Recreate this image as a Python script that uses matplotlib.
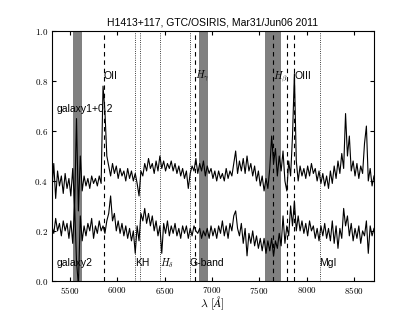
import matplotlib as mpl
mpl.use('Agg')
import matplotlib.pyplot as plt
import matplotlib.ticker as ticker
import numpy as np

# =========================================================
#   Spectra (20 A sampling)
# =========================================================

wavelength = [
    5310, 5330, 5350, 5370, 5390, 5410, 5430, 5450, 5470, 5490,
    5510, 5530, 5550, 5570, 5590, 5610, 5630, 5650, 5670, 5690,
    5710, 5730, 5750, 5770, 5790, 5810, 5830, 5850, 5870, 5890,
    5910, 5930, 5950, 5970, 5990, 6010, 6030, 6050, 6070, 6090,
    6110, 6130, 6150, 6170, 6190, 6210, 6230, 6250, 6270, 6290,
    6310, 6330, 6350, 6370, 6390, 6410, 6430, 6450, 6470, 6490,
    6510, 6530, 6550, 6570, 6590, 6610, 6630, 6650, 6670, 6690,
    6710, 6730, 6750, 6770, 6790, 6810, 6830, 6850, 6870, 6890,
    6910, 6930, 6950, 6970, 6990, 7010, 7030, 7050, 7070, 7090,
    7110, 7130, 7150, 7170, 7190, 7210, 7230, 7250, 7270, 7290,
    7310, 7330, 7350, 7370, 7390, 7410, 7430, 7450, 7470, 7490,
    7510, 7530, 7550, 7570, 7590, 7610, 7630, 7650, 7670, 7690,
    7710, 7730, 7750, 7770, 7790, 7810, 7830, 7850, 7870, 7890,
    7910, 7930, 7950, 7970, 7990, 8010, 8030, 8050, 8070, 8090,
    8110, 8130, 8150, 8170, 8190, 8210, 8230, 8250, 8270, 8290,
    8310, 8330, 8350, 8370, 8390, 8410, 8430, 8450, 8470, 8490,
    8510, 8530, 8550, 8570, 8590, 8610, 8630, 8650, 8670, 8690,
    8710,
]

galaxy1 = [
    0.16, 0.27, 0.13, 0.24, 0.18, 0.22, 0.15, 0.23, 0.17, 0.21,
    0.14, 0.25, 0.10, 0.45, 0.08, 0.30, 0.16, 0.22, 0.18, 0.21,
    0.17, 0.22, 0.19, 0.21, 0.18, 0.22, 0.19, 0.58, 0.48, 0.30,
    0.26, 0.22, 0.27, 0.23, 0.26, 0.21, 0.25, 0.22, 0.24, 0.20,
    0.25, 0.21, 0.24, 0.20, 0.23, 0.19, 0.14, 0.24, 0.22, 0.27,
    0.24, 0.29, 0.25, 0.27, 0.23, 0.28, 0.24, 0.30, 0.25, 0.28,
    0.24, 0.27, 0.25, 0.28, 0.24, 0.27, 0.23, 0.26, 0.22, 0.25,
    0.21, 0.24, 0.17, 0.23, 0.26, 0.24, 0.29, 0.23, 0.27, 0.24,
    0.28, 0.22, 0.26, 0.23, 0.25, 0.21, 0.24, 0.20, 0.24, 0.21,
    0.23, 0.20, 0.25, 0.21, 0.24, 0.22, 0.27, 0.32, 0.23, 0.28,
    0.24, 0.29, 0.23, 0.30, 0.24, 0.27, 0.22, 0.26, 0.20, 0.24,
    0.18, 0.22, 0.16, 0.21, 0.17, 0.25, 0.38, 0.27, 0.33, 0.22,
    0.30, 0.24, 0.32, 0.20, 0.16, 0.28, 0.22, 0.38, 0.63, 0.28,
    0.20, 0.26, 0.22, 0.25, 0.21, 0.26, 0.22, 0.27, 0.23, 0.25,
    0.20, 0.24, 0.19, 0.23, 0.18, 0.22, 0.17, 0.24, 0.19, 0.26,
    0.21, 0.28, 0.23, 0.31, 0.25, 0.47, 0.30, 0.38, 0.24, 0.28,
    0.22, 0.27, 0.21, 0.26, 0.23, 0.35, 0.42, 0.20, 0.25, 0.18,
    0.22,
]

galaxy2 = [
    0.22, 0.19, 0.25, 0.20, 0.23, 0.18, 0.24, 0.20, 0.23, 0.17,
    0.24, 0.15, 0.30, 0.08, -0.02, 0.26, 0.16, 0.22, 0.18, 0.23,
    0.20, 0.25, 0.17, 0.22, 0.19, 0.24, 0.20, 0.22, 0.19, 0.24,
    0.27, 0.34, 0.24, 0.27, 0.20, 0.24, 0.19, 0.23, 0.18, 0.22,
    0.17, 0.21, 0.16, 0.20, 0.11, 0.22, 0.16, 0.27, 0.24, 0.29,
    0.23, 0.27, 0.22, 0.26, 0.20, 0.24, 0.18, 0.22, 0.11, 0.23,
    0.19, 0.24, 0.18, 0.22, 0.19, 0.23, 0.18, 0.21, 0.17, 0.22,
    0.19, 0.22, 0.17, 0.21, 0.18, 0.22, 0.20, 0.19, 0.21, 0.17,
    0.20, 0.18, 0.21, 0.17, 0.22, 0.18, 0.21, 0.17, 0.22, 0.19,
    0.24, 0.18, 0.22, 0.17, 0.23, 0.20, 0.26, 0.28, 0.21, 0.18,
    0.23, 0.15, 0.21, 0.10, 0.19, 0.15, 0.20, 0.14, 0.18, 0.13,
    0.17, 0.12, 0.17, 0.11, 0.16, 0.12, 0.17, 0.10, 0.16, 0.13,
    0.19, 0.14, 0.26, 0.15, 0.22, 0.18, 0.30, 0.22, 0.32, 0.20,
    0.26, 0.20, 0.24, 0.19, 0.23, 0.18, 0.24, 0.20, 0.22, 0.17,
    0.21, 0.16, 0.22, 0.18, 0.23, 0.17, 0.21, 0.16, 0.24, 0.15,
    0.22, 0.13, 0.21, 0.17, 0.29, 0.22, 0.26, 0.18, 0.23, 0.16,
    0.21, 0.17, 0.22, 0.15, 0.20, 0.18, 0.24, 0.11, 0.22, 0.18,
    0.21,
]

offset = 0.2

# line identifications at z ~ 0.572
dashed_lines = [5860, 6823, 7642, 7795, 7871]
dotted_lines = [6184, 6238, 6448, 6766, 8136]
upper_labels = ['OII', r'$H_\gamma$', r'$H_\beta$', 'OIII']
upper_label_pos = [5860, 6823, 7642, 7871]
lower_labels = ['KH', r'$H_\delta$', 'G-band', 'MgI']
lower_label_pos = [6184, 6448, 6766, 8136]

# telluric / sky bands
bands = [(5530, 5630), (6860, 6955), (7555, 7730)]

# =========================================================
#   Plot
# =========================================================

plt.rcParams.update({
    'mathtext.fontset': 'cm',
    'font.family': 'Liberation Sans',
    'xtick.direction': 'in',
    'ytick.direction': 'in',
    'xtick.top': True,
    'ytick.right': True,
    'xtick.major.size': 3,
    'ytick.major.size': 3,
    'xtick.major.pad': 3,
    'ytick.major.pad': 3,
})

fig = plt.figure(figsize=(4.15, 3.12), dpi=100)
ax = fig.add_subplot(111)
fig.subplots_adjust(left=0.125, right=0.9, bottom=0.1, top=0.9)

for lo, hi in bands:
    ax.axvspan(lo, hi, color='0.5', lw=0, zorder=1)

for w in dashed_lines:
    ax.axvline(w, color='k', lw=0.8, dashes=(4, 3.5), zorder=2)
for w in dotted_lines:
    ax.axvline(w, color='k', lw=0.6, linestyle=':', zorder=2)

wl = np.array(wavelength)
ax.plot(wl, np.array(galaxy1) + offset, color='k', lw=0.8, zorder=3)
ax.plot(wl, np.array(galaxy2), color='k', lw=0.8, zorder=3)

for lab, w in zip(upper_labels, upper_label_pos):
    ax.text(w, 0.82, lab, fontsize=7.5, va='center', ha='left', zorder=4)
for lab, w in zip(lower_labels, lower_label_pos):
    ax.text(w, 0.07, lab, fontsize=7.5, va='center', ha='left', zorder=4)

ax.text(5360, 0.69, 'galaxy1+0.2', fontsize=7.5, va='center', ha='left', zorder=4)
ax.text(5360, 0.07, 'galaxy2', fontsize=7.5, va='center', ha='left', zorder=4)

ax.set_xlim(5310, 8705)
ax.set_ylim(0.0, 1.0)
ax.xaxis.set_major_locator(ticker.MultipleLocator(500))
ax.yaxis.set_major_locator(ticker.MultipleLocator(0.2))
ax.xaxis.set_major_formatter(ticker.FuncFormatter(lambda v, p: r'$%d$' % v))
ax.yaxis.set_major_formatter(ticker.FuncFormatter(lambda v, p: r'$%.1f$' % v))
ax.tick_params(labelsize=6.5)

ax.set_xlabel(r'$\lambda\ [\AA]$', fontsize=8.5, labelpad=-1)
ax.set_title('H1413+117, GTC/OSIRIS, Mar31/Jun06 2011', fontsize=7.5, pad=4)

plt.savefig('out.png', dpi=100)
